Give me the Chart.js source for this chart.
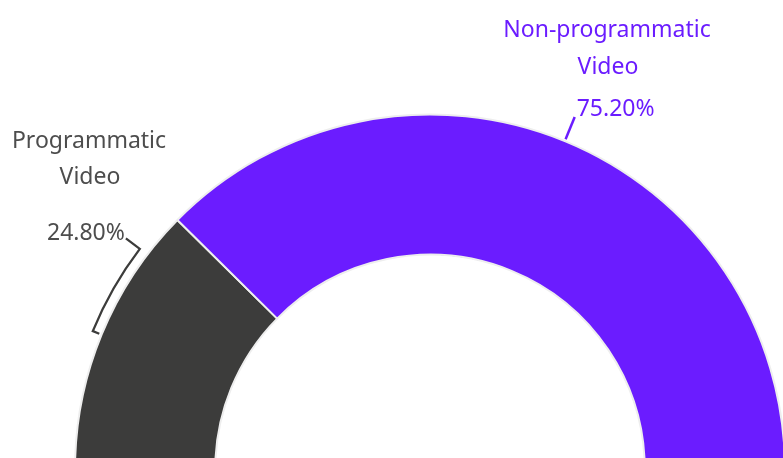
<!DOCTYPE html>
<html>
<head>
<meta charset="utf-8">
<script src="https://cdn.jsdelivr.net/npm/chart.js@4.4.0/dist/chart.umd.min.js"></script>
<style>
  html, body { margin: 0; padding: 0; background: #fff; overflow: hidden; }
  #chart { display: block; }
</style>
</head>
<body>
<canvas id="chart" width="783" height="458"></canvas>
<script>
var categories = ['Programmatic Video', 'Non-programmatic Video'];
var labelLines = [['Programmatic', 'Video'], ['Non-programmatic', 'Video']];
var shares = [24.8, 75.2];

var sliceColors = ['#3c3c3b', '#6b1cff'];
var textColors = ['#4d4d4d', '#6b1cff'];

function deg(d) {
    return d * Math.PI / 180;
}

function polar(arc, angle, r) {
    return { x: arc.x + Math.cos(angle) * r, y: arc.y + Math.sin(angle) * r };
}

// callout text + leader lines around the half ring
var callouts = {
    id: 'callouts',
    afterDatasetsDraw: function (chart) {
        var ctx = chart.ctx;
        var arcs = chart.getDatasetMeta(0).data;
        ctx.save();
        ctx.font = '23px "Noto Sans"';
        ctx.textBaseline = 'alphabetic';

        // small slice: bracket running along the outer edge
        var a = arcs[0];
        var mid = (a.startAngle + a.endAngle) / 2;
        var top = a.endAngle - deg(7.4);
        var br = a.outerRadius + 9.5;
        var p0 = polar(a, mid, a.outerRadius + 2.5);
        var p1 = polar(a, mid, br);
        var p2 = polar(a, top, a.outerRadius + 27);
        ctx.strokeStyle = sliceColors[0];
        ctx.lineWidth = 2.3;
        ctx.beginPath();
        ctx.moveTo(p0.x, p0.y);
        ctx.lineTo(p1.x, p1.y);
        ctx.arc(a.x, a.y, br, mid, top);
        ctx.lineTo(p2.x, p2.y);
        ctx.stroke();

        ctx.fillStyle = textColors[0];
        ctx.textAlign = 'right';
        ctx.fillText(shares[0].toFixed(2) + '%', p2.x - 1, p2.y + 2);
        ctx.textAlign = 'center';
        ctx.fillText(labelLines[0][0], 89, 148);
        ctx.fillText(labelLines[0][1], 90, 184);

        // big slice: straight tick from the middle of the arc
        var b = arcs[1];
        var bmid = (b.startAngle + b.endAngle) / 2;
        var q0 = polar(b, bmid, b.outerRadius + 2);
        var q1 = polar(b, bmid, b.outerRadius + 26);
        ctx.strokeStyle = textColors[1];
        ctx.lineWidth = 2.5;
        ctx.beginPath();
        ctx.moveTo(q0.x, q0.y);
        ctx.lineTo(q1.x, q1.y);
        ctx.stroke();

        ctx.fillStyle = textColors[1];
        ctx.textAlign = 'left';
        ctx.fillText(shares[1].toFixed(2) + '%', q1.x + 2, q1.y - 1.5);
        ctx.textAlign = 'center';
        ctx.fillText(labelLines[1][0], 607, 37);
        ctx.fillText(labelLines[1][1], 608, 74);

        ctx.restore();
    }
};

var ctx = document.getElementById('chart').getContext('2d');
var myChart = new Chart(ctx, {
    type: 'doughnut',
    data: {
        labels: categories,
        datasets: [{
            data: shares,
            backgroundColor: sliceColors,
            borderColor: '#eeeeee',
            borderWidth: 2
        }]
    },
    options: {
        responsive: false,
        animation: false,
        rotation: -90,
        circumference: 180,
        radius: 355,
        cutout: '60.5%',
        layout: {
            padding: { left: 77, right: 0, top: 126, bottom: 0 }
        },
        plugins: {
            legend: { display: false },
            tooltip: { enabled: false }
        }
    },
    plugins: [callouts]
});
</script>
</body>
</html>
